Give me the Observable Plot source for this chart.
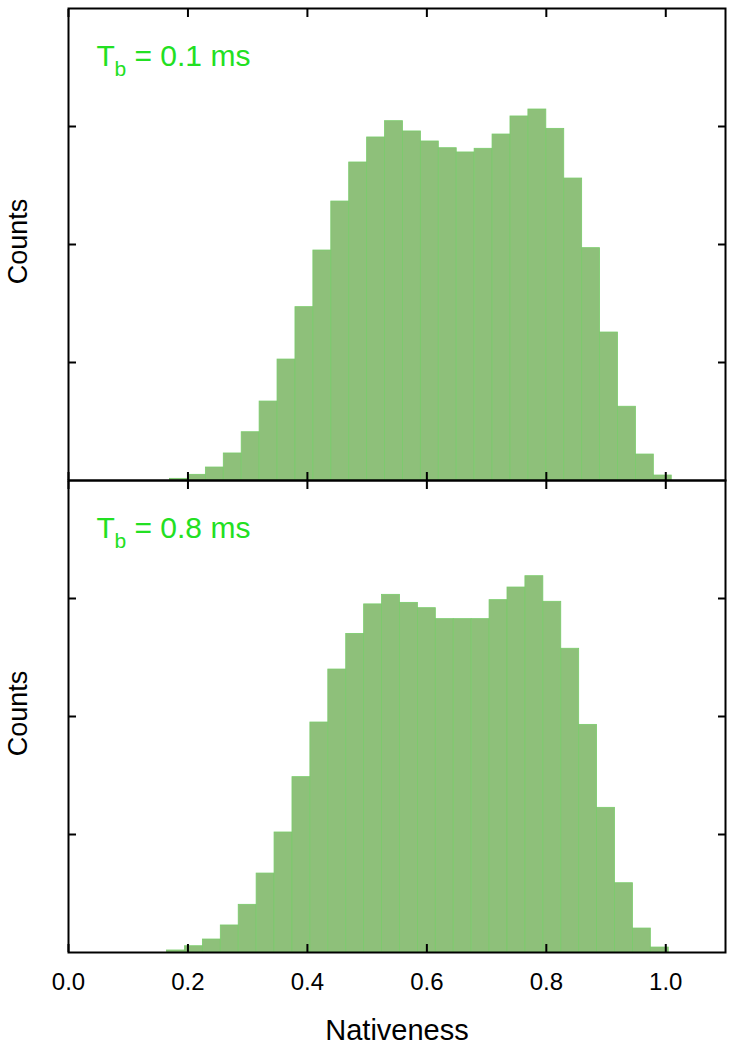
<!DOCTYPE html>
<html>
<head>
<meta charset="utf-8">
<script src="https://cdn.jsdelivr.net/npm/d3@7"></script>
<script src="https://cdn.jsdelivr.net/npm/@observablehq/plot@0.6"></script>
<style>
  html, body { margin: 0; padding: 0; background: #fff; }
  svg { display: block; }
</style>
</head>
<body>
<div id="chart"></div>
<script>
// Panels (bin time T_b, in ms)
const panels = ["0.1", "0.8"];

// Histogram bin starts (bin width 0.03)
const binWidth = 0.03;
const topBinStart = [0.17, 0.20, 0.23, 0.26, 0.29, 0.32, 0.35, 0.38, 0.41, 0.44, 0.47, 0.50, 0.53, 0.56,
                     0.59, 0.62, 0.65, 0.68, 0.71, 0.74, 0.77, 0.80, 0.83, 0.86, 0.89, 0.92, 0.95, 0.98];
const bottomBinStart = [0.165, 0.195, 0.225, 0.255, 0.285, 0.315, 0.345, 0.375, 0.405, 0.435, 0.465, 0.495, 0.525, 0.555,
                        0.585, 0.615, 0.645, 0.675, 0.705, 0.735, 0.765, 0.795, 0.825, 0.855, 0.885, 0.915, 0.945, 0.975];

// Counts (arbitrary units; axis is unlabeled)
const topCounts = [0.014, 0.048, 0.11, 0.229, 0.409, 0.669, 1.025, 1.469, 1.949, 2.364, 2.695, 2.907, 3.045, 2.958,
                   2.873, 2.816, 2.780, 2.811, 2.932, 3.085, 3.144, 2.980, 2.559, 1.969, 1.254, 0.625, 0.220, 0.042];
const bottomCounts = [0.017, 0.053, 0.11, 0.229, 0.404, 0.669, 1.017, 1.486, 1.949, 2.398, 2.700, 2.950, 3.031, 2.963,
                      2.918, 2.825, 2.825, 2.825, 2.986, 3.093, 3.189, 2.972, 2.574, 1.929, 1.226, 0.587, 0.203, 0.042];

// Axes
const xTicks = [0, 0.2, 0.4, 0.6, 0.8, 1.0];
const yTicks = [1, 2, 3];
const xDomain = [0, 1.1];
const yDomain = [0, 4];
const xLabel = "Nativeness";
const yLabel = "Counts";

const bars = [
  ...topBinStart.map((x, i) => ({panel: panels[0], x1: x, x2: x + binWidth, count: topCounts[i]})),
  ...bottomBinStart.map((x, i) => ({panel: panels[1], x1: x, x2: x + binWidth, count: bottomCounts[i]}))
];

const green = "#22e022";
const font = "'Liberation Sans', Arial, Helvetica, sans-serif";

const chart = Plot.plot({
  width: 733,
  height: 1045,
  marginTop: 7,
  marginBottom: 93,
  marginLeft: 68,
  marginRight: 8,
  style: {fontFamily: font, fontSize: "24px", background: "#fff", color: "#000"},
  x: {domain: xDomain},
  y: {domain: yDomain},
  fy: {domain: panels, padding: 0, axis: null},
  marks: [
    Plot.rectY(bars, {x1: "x1", x2: "x2", y: "count", fy: "panel", fill: "#8ec07a", stroke: "#7acb6b", strokeWidth: 0.8}),
    Plot.frame({stroke: "#000", strokeWidth: 2}),
    // inward ticks on all four sides of each panel
    Plot.axisX(xTicks, {anchor: "bottom", facetAnchor: null, tickSize: -8, strokeWidth: 2, fill: "none", label: null}),
    Plot.axisX(xTicks, {anchor: "top", facetAnchor: null, tickSize: -8, strokeWidth: 2, fill: "none", label: null}),
    Plot.axisY(yTicks, {anchor: "left", facetAnchor: null, tickSize: -8, strokeWidth: 2, fill: "none", label: null}),
    Plot.axisY(yTicks, {anchor: "right", facetAnchor: null, tickSize: -8, strokeWidth: 2, fill: "none", label: null}),
    // x tick labels
    Plot.axisX(xTicks, {anchor: "bottom", tickSize: 0, tickPadding: 20, tickFormat: ".1f", fontSize: 24, label: null}),
    // x title
    Plot.axisX([], {anchor: "bottom", tickSize: 0, fontSize: 29, label: xLabel, labelArrow: "none",
                    labelAnchor: "center", labelOffset: 87}),
    // y title per panel
    Plot.text(panels, {fy: d => d, text: () => yLabel, frameAnchor: "left", textAnchor: "middle", lineAnchor: "middle",
                       rotate: -90, dx: -50, dy: -3, fontSize: 27}),
    // panel annotation T_b = ... ms
    Plot.text(panels, {fy: d => d, text: () => "T", frameAnchor: "top-left", textAnchor: "start", lineAnchor: "bottom",
                       dx: 28, dy: 57, fill: green, fontSize: 30}),
    Plot.text(panels, {fy: d => d, text: () => "b", frameAnchor: "top-left", textAnchor: "start", lineAnchor: "bottom",
                       dx: 46, dy: 67, fill: green, fontSize: 21}),
    Plot.text(panels, {fy: d => d, text: d => `= ${d} ms`, frameAnchor: "top-left", textAnchor: "start", lineAnchor: "bottom",
                       dx: 66, dy: 57, fill: green, fontSize: 30})
  ]
});

document.getElementById("chart").appendChild(chart);
</script>
</body>
</html>
